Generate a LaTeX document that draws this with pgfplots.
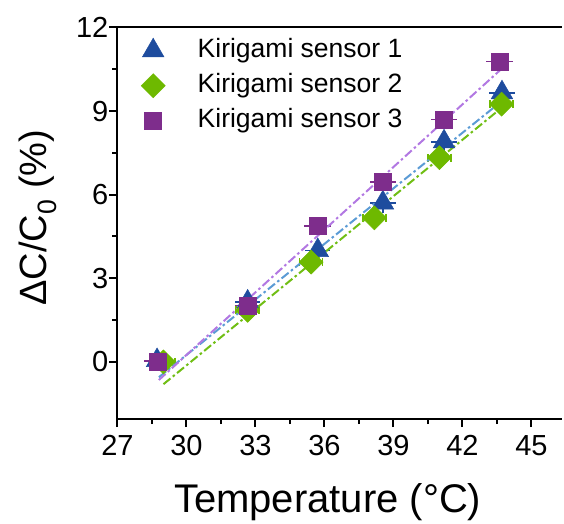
\documentclass[border=0pt]{standalone}
\usepackage{fontspec}
\setmainfont{Liberation Sans}
\usepackage{pgfplots}
\pgfplotsset{compat=1.18}
\usepackage{pgfplotstable}

\definecolor{sblue}{RGB}{30,76,158}
\definecolor{sgreen}{RGB}{110,185,0}
\definecolor{spurple}{RGB}{126,45,140}
\definecolor{lblue}{RGB}{91,155,213}
\definecolor{lgreen}{RGB}{112,190,20}
\definecolor{lpurple}{RGB}{178,120,226}

% sensor data: temperature, dC/C0, x error, y error
\pgfplotstableread{
x y ex ey
28.72 0.05 0.55 0.12
32.66 2.15 0.55 0.12
35.71 4.00 0.55 0.12
38.54 5.71 0.55 0.12
41.20 7.90 0.55 0.12
43.72 9.66 0.55 0.12
}\sone
\pgfplotstableread{
x y ex ey
29.00 0.00 0.50 0.15
32.66 1.85 0.50 0.15
35.42 3.58 0.50 0.15
38.17 5.17 0.50 0.15
41.00 7.33 0.50 0.15
43.70 9.25 0.50 0.15
}\stwo
\pgfplotstableread{
x y ex ey
28.75 0.02 0.58 0.10
32.67 2.02 0.58 0.10
35.71 4.88 0.58 0.10
38.54 6.45 0.58 0.10
41.20 8.70 0.58 0.10
43.62 10.78 0.58 0.10
}\sthree

\pgfplotsset{
  fitline/.style={line width=2bp, dash pattern=on 9bp off 3bp on 2.5bp off 3bp, forget plot},
  erronly/.style={forget plot, draw=none, mark=none},
}

\begin{document}
\begin{tikzpicture}
\useasboundingbox (-117.5bp,-105bp) rectangle (446.5bp,419bp);
\begin{axis}[
  at={(0,0)}, anchor=south west,
  scale only axis, width=444.5bp, height=391.5bp,
  xmin=27, xmax=46.33, ymin=-2.05, ymax=12,
  axis x line*=box, axis y line*=left,
  axis line style={line width=2bp, -},
  xtick={27,30,...,45}, ytick={0,3,...,12},
  minor x tick num=1, minor y tick num=1,
  xtick pos=bottom, ytick pos=left,
  tick align=outside,
  major tick length=8bp, minor tick length=5bp,
  tick style={line width=2bp, black},
  /pgf/number format/assume math mode=true,
  tick label style={font=\fontsize{29bp}{33bp}\selectfont},
  xticklabel style={inner sep=0pt, anchor=north, yshift=-8bp},
  yticklabel style={inner sep=0pt, anchor=east, xshift=-1bp},
  xlabel={Temperature (°C)},
  ylabel={ΔC/C\textsubscript{0} (\%)},
  xlabel style={font=\fontsize{40bp}{46bp}\selectfont, at={(axis description cs:0.473,-0.2379)}, anchor=base},
  ylabel style={font=\fontsize{38bp}{44bp}\selectfont, at={(axis description cs:-0.1606,0.514)}, anchor=base},
  legend style={draw=none, fill=none, inner sep=0pt, at={(axis description cs:0,1)}, anchor=north west,
    xshift=17.5bp, yshift=-9bp, font=\fontsize{26.5bp}{30bp}\selectfont, row sep=7bp,
    nodes={inner sep=1.5bp, text height=19bp, text depth=6bp}},
  legend cell align=left,
  legend image code/.code={\path[draw=none, fill=none] (0bp,-8bp) rectangle (61bp,8bp);
    \draw[mark repeat=2,mark phase=2,#1] plot coordinates {(0bp,0bp) (18bp,0bp) (36bp,0bp)};},
]
% markers
\addplot[only marks, mark=triangle*, mark size=12.5bp, mark options={fill=sblue, draw=sblue, line width=0.5bp}] table[x=x,y=y]{\sone};
\addlegendentry{Kirigami sensor 1}
\addplot[only marks, mark=square*, mark size=8.5bp, mark options={rotate=45, fill=sgreen, draw=sgreen, line width=0.5bp}] table[x=x,y=y]{\stwo};
\addlegendentry{Kirigami sensor 2}
\addplot[only marks, mark=square*, mark size=8.5bp, mark options={fill=spurple, draw=spurple, line width=0.5bp}] table[x=x,y=y]{\sthree};
\addlegendentry{Kirigami sensor 3}
% error bars
\addplot[erronly, error bars/.cd, x dir=both, x explicit, error mark=none, error bar style={draw=sblue, line width=1.8bp}]
  table[x=x,y=y,x error=ex]{\sone};
\addplot[erronly, error bars/.cd, y dir=both, y explicit,
  error mark=-, error mark options={mark size=7bp, line width=1.8bp, draw=sblue}, error bar style={draw=sblue, line width=1.8bp}]
  table[x=x,y=y,y error=ey]{\sone};
\addplot[erronly, error bars/.cd, x dir=both, x explicit, error mark=|,
  error mark options={mark size=4bp, line width=1.5bp, draw=sgreen}, error bar style={draw=sgreen, line width=1.8bp}]
  table[x=x,y=y,x error=ex]{\stwo};
\addplot[erronly, error bars/.cd, x dir=both, x explicit, error mark=none,
  error bar style={draw=spurple, line width=1.8bp}]
  table[x=x,y=y,x error=ex]{\sthree};
% linear fits
\addplot[fitline, lblue] coordinates {(28.8,-0.55) (43.7,9.35)};
\addplot[fitline, lgreen] coordinates {(29.0,-0.80) (43.75,9.15)};
\addplot[fitline, lpurple] coordinates {(28.8,-0.65) (43.68,10.5)};
\end{axis}
\end{tikzpicture}
\end{document}
